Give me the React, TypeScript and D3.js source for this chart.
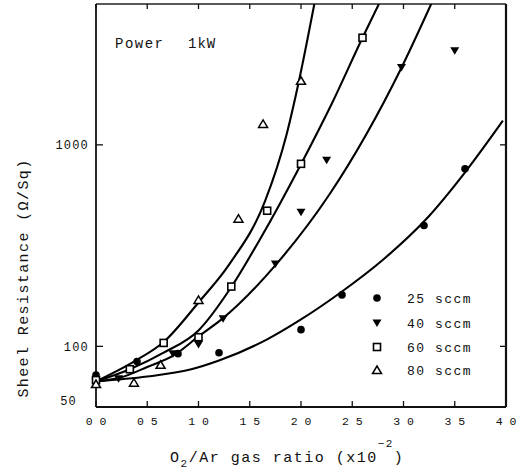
import React from "react";
import * as d3 from "d3";

// ---- data ----
const xTicks = [0, 0.5, 1.0, 1.5, 2.0, 2.5, 3.0, 3.5, 4.0];
const yTicks = [100, 1000];
const yTickLabels = ["50", "100", "1000"];

const seriesNames = ["25 sccm", "40 sccm", "60 sccm", "80 sccm"];

const pts25: [number, number][] = [[0, 72], [0.4, 84], [0.8, 92], [1.2, 93], [2.0, 121], [2.4, 180], [3.2, 398], [3.6, 760]];
const pts40: [number, number][] = [[0, 67], [0.22, 69], [0.75, 92], [1.0, 102], [1.24, 137], [1.75, 256], [2.0, 463], [2.25, 838], [2.98, 2420], [3.5, 2930]];
const pts60: [number, number][] = [[0, 68], [0.33, 77], [0.66, 104], [1.0, 111], [1.32, 198], [1.67, 471], [2.0, 805], [2.6, 3400]];
const pts80: [number, number][] = [[0, 65], [0.37, 66], [0.63, 81], [1.0, 170], [1.39, 430], [1.63, 1270], [2.0, 2080]];

// fitted curves, sampled along the drawn lines
const fit25: [number, number][] = [[0, 67], [0.5, 70.8], [0.92, 76.7], [1.2, 85], [1.665, 108], [2.0, 136], [2.38, 184], [2.8, 269], [3.22, 427], [3.61, 741], [3.97, 1318]];
const fit40: [number, number][] = [[0, 67], [0.24, 70], [0.5, 79], [0.77, 91], [1.0, 112], [1.24, 138], [1.76, 256], [2.28, 570], [2.98, 2415], [3.27, 5000]];
const fit60: [number, number][] = [[0, 67], [0.33, 77], [0.66, 93], [1.0, 120], [1.32, 197], [1.6, 340], [2.0, 802], [2.3, 1600], [2.6, 3400], [2.76, 5000]];
const fit80: [number, number][] = [[0, 67], [0.37, 84], [0.66, 105], [1.0, 165], [1.3, 255], [1.65, 527], [1.86, 1130], [1.98, 2076], [2.13, 5000]];

const FONT = "'Liberation Mono', 'DejaVu Sans Mono', monospace";

function Marker({ kind, cx, cy }: { kind: number; cx: number; cy: number }) {
  if (kind === 0) return <circle cx={cx} cy={cy} r={3.8} fill="#000" />;
  if (kind === 1)
    return <polygon points={`${cx - 4.5},${cy - 3.5} ${cx + 4.5},${cy - 3.5} ${cx},${cy + 4}`} fill="#000" />;
  if (kind === 2)
    return <rect x={cx - 3.5} y={cy - 3.5} width={7} height={7} fill="#fff" stroke="#000" strokeWidth={1.6} />;
  return (
    <polygon
      points={`${cx - 4.5},${cy + 3.5} ${cx + 4.5},${cy + 3.5} ${cx},${cy - 4}`}
      fill="#fff"
      stroke="#000"
      strokeWidth={1.5}
    />
  );
}

export default function App() {
  const left = 96, right = 506, top = 4, bottom = 407;
  const x = d3.scaleLinear().domain([0, 4]).range([left, right]);
  const y = d3.scaleLog().domain([50, 5000]).range([bottom, top]);

  const line = d3
    .line<[number, number]>()
    .x((d) => x(d[0]))
    .y((d) => y(d[1]))
    .curve(d3.curveMonotoneX);

  const fits = [fit25, fit40, fit60, fit80];
  const pts = [pts25, pts40, pts60, pts80];
  const legendY = [298, 323, 347, 370];

  return (
    <svg
      width={529}
      height={476}
      style={{ position: "absolute", left: 0, top: 0, background: "#fff" }}
      fontFamily={FONT}
    >
      <rect x={0} y={0} width={529} height={476} fill="#fff" />
      <defs>
        <clipPath id="plot">
          <rect x={left} y={top} width={right - left} height={bottom - top} />
        </clipPath>
      </defs>

      {/* frame */}
      <line x1={left} y1={top} x2={right} y2={top} stroke="#222" strokeWidth={1.4} />
      <line x1={left} y1={top} x2={left} y2={bottom} stroke="#111" strokeWidth={1.8} />
      <line x1={left} y1={bottom} x2={right} y2={bottom} stroke="#111" strokeWidth={1.8} />
      <line x1={right} y1={top} x2={right} y2={bottom} stroke="#111" strokeWidth={2.2} />

      {/* x ticks */}
      {xTicks.map((t) => (
        <g key={"xt" + t}>
          <line x1={x(t)} x2={x(t)} y1={bottom} y2={bottom - 6} stroke="#111" strokeWidth={1.3} />
          <line x1={x(t)} x2={x(t)} y1={top} y2={top + 5} stroke="#111" strokeWidth={1.3} />
          <text x={x(t)} y={425} textAnchor="middle" fontSize={11.5} fill="#111">
            {t.toFixed(1).replace(".", " ")}
          </text>
        </g>
      ))}

      {/* y ticks */}
      {yTicks.map((t) => (
        <g key={"yt" + t}>
          <line x1={left} x2={left + 7} y1={y(t)} y2={y(t)} stroke="#111" strokeWidth={1.3} />
          <line x1={right} x2={right - 6} y1={y(t)} y2={y(t)} stroke="#111" strokeWidth={1.3} />
        </g>
      ))}
      <text x={89} y={y(1000)} dy="0.35em" textAnchor="end" fontSize={12} letterSpacing={1.2} fill="#111">
        {yTickLabels[2]}
      </text>
      <text x={89} y={y(100)} dy="0.35em" textAnchor="end" fontSize={12} letterSpacing={1.2} fill="#111">
        {yTickLabels[1]}
      </text>
      <text x={77} y={y(50) - 6} dy="0.35em" textAnchor="end" fontSize={12} letterSpacing={1.2} fill="#111">
        {yTickLabels[0]}
      </text>

      {/* curves */}
      <g clipPath="url(#plot)">
        {fits.map((f, i) => (
          <path key={"f" + i} d={line(f) || ""} fill="none" stroke="#000" strokeWidth={2.1} />
        ))}
      </g>

      {/* points */}
      {pts.map((s, i) =>
        s.map((d, j) => <Marker key={`p${i}-${j}`} kind={i} cx={x(d[0])} cy={y(d[1])} />)
      )}

      {/* legend */}
      {seriesNames.map((n, i) => (
        <g key={"lg" + i}>
          <Marker kind={i} cx={377} cy={legendY[i]} />
          <text x={407} y={legendY[i]} dy="0.35em" fontSize={13} letterSpacing={1.5} fill="#111">
            {n}
          </text>
        </g>
      ))}

      {/* annotation */}
      <text x={115} y={48} fontSize={14} letterSpacing={1.5} fill="#111">Power</text>
      <text x={188} y={48} fontSize={14} letterSpacing={1} fill="#111">1kW</text>

      {/* axis titles */}
      <text
        transform={`translate(28,278) rotate(-90)`}
        textAnchor="middle"
        fontSize={15}
        letterSpacing={1.4}
        fill="#111"
      >
        Sheel Resistance (Ω/Sq)
      </text>
      <text x={170} y={462} fontSize={15} letterSpacing={1.5} fill="#111">
        O<tspan fontSize={11} dy={5}>2</tspan>
        <tspan dy={-5}>/Ar gas ratio (x10</tspan>
        <tspan fontSize={11} dy={-15}>−2</tspan>
        <tspan dy={15}>)</tspan>
      </text>
    </svg>
  );
}
